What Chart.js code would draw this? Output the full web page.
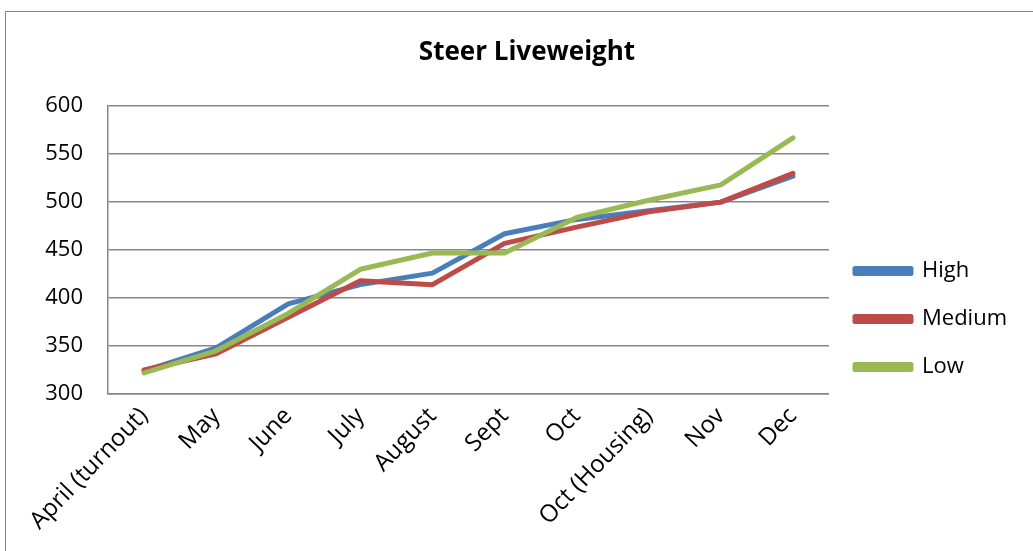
<!DOCTYPE html>
<html lang="en">
  <head>
    <meta charset="utf-8" />
    <title>Steer Liveweight</title>
    <style>
      html,
      body {
        margin: 0;
        padding: 0;
        background: #fff;
        overflow: hidden;
      }
      .chart-wrapper {
        position: absolute;
        left: 5px;
        top: 11px;
        width: 1042px;
        height: 540px;
        border-left: 1.5px solid #868686;
        border-top: 1.5px solid #868686;
      }
    </style>
  </head>
  <body>
    <div class="chart-wrapper">
      <canvas id="liveweight" width="1042" height="540"></canvas>
    </div>

    <script src="https://cdn.jsdelivr.net/npm/chart.js@4.4.0/dist/chart.umd.min.js"></script>
    <script>
      // data
      const months = ["April (turnout)", "May", "June", "July", "August", "Sept", "Oct", "Oct (Housing)", "Nov", "Dec"];
      const high = [324, 348, 394, 414, 426, 467, 482, 491, 500, 527];
      const medium = [325, 342, 380, 418, 414, 457, 474, 490, 500, 530];
      const low = [322, 345, 384, 430, 447, 447, 484, 502, 518, 567];
      const yTicks = [300, 350, 400, 450, 500, 550, 600];

      const gridColor = "#868686";
      const font = "'Open Sans', 'DejaVu Sans', sans-serif";

      function line(label, values, color, order) {
        return {
          label: label,
          data: values,
          borderColor: color,
          backgroundColor: color,
          borderWidth: 5,
          borderCapStyle: "round",
          borderJoinStyle: "round",
          pointRadius: 0,
          tension: 0,
          order: order,
        };
      }

      // title is centred over the whole frame, legend included (like the excel original)
      const centreTitle = {
        id: "centreTitle",
        afterLayout(chart) {
          const t = chart.titleBlock;
          t.right = chart.width;
          t.width = t.right - t.left;
        },
      };

      const ctx = document.getElementById("liveweight").getContext("2d");
      const myChart = new Chart(ctx, {
        type: "line",
        data: {
          labels: months,
          datasets: [line("High", high, "#4a7ebb", 3), line("Medium", medium, "#be4b48", 2), line("Low", low, "#98b954", 1)],
        },
        plugins: [centreTitle],
        options: {
          responsive: false,
          animation: false,
          layout: { padding: { left: 0, right: 31, top: 0, bottom: 0 } },
          plugins: {
            tooltip: { enabled: false },
            title: {
              display: true,
              text: "Steer Liveweight",
              color: "#000",
              font: { family: font, size: 26, weight: "bold" },
              padding: { top: 25, bottom: 38 },
            },
            legend: {
              position: "right",
              title: { display: true, text: " ", font: { size: 10 }, padding: { top: 62, bottom: 0 } },
              labels: {
                color: "#000",
                font: { family: font, size: 22 },
                boxWidth: 56,
                boxHeight: 5,
                padding: 26,
                sort: (a, b) => a.datasetIndex - b.datasetIndex,
              },
            },
          },
          scales: {
            x: {
              offset: true,
              grid: { display: false, drawTicks: false },
              border: { display: true, color: gridColor, width: 1.5 },
              ticks: {
                color: "#000",
                font: { family: font, size: 24 },
                minRotation: 46,
                maxRotation: 46,
                autoSkip: false,
                padding: 8,
              },
              afterFit: (scale) => {
                scale.height = 158;
              },
            },
            y: {
              min: 300,
              max: 600,
              grid: { color: gridColor, lineWidth: 1.5, drawTicks: false },
              border: { display: true, color: gridColor, width: 1.5 },
              afterBuildTicks: (scale) => {
                scale.ticks = yTicks.map((v) => ({ value: v }));
              },
              ticks: {
                color: "#000",
                font: { family: font, size: 22 },
                padding: 25,
              },
              afterFit: (scale) => {
                scale.width = 102;
              },
            },
          },
        },
      });
    </script>
  </body>
</html>
